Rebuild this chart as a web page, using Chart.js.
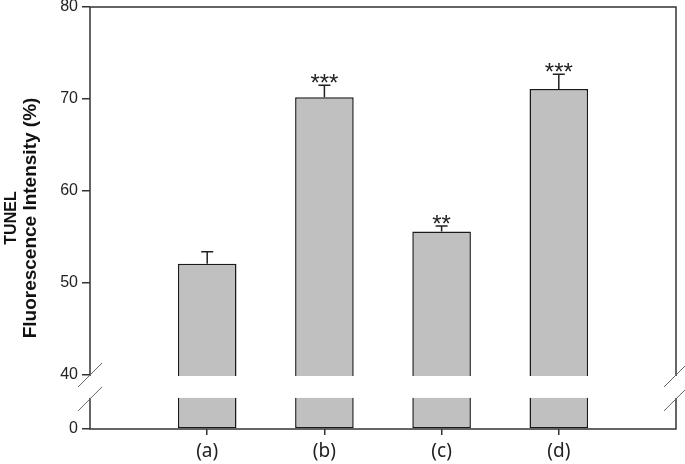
<!DOCTYPE html>
<html>
<head>
<meta charset="utf-8">
<script src="https://cdn.jsdelivr.net/npm/chart.js@4.4.0/dist/chart.umd.min.js"></script>
<style>
  html, body { margin: 0; padding: 0; background: #fff; }
  #wrap { width: 685px; height: 464px; }
</style>
</head>
<body>
<div id="wrap"><canvas id="myChart"></canvas></div>
<script>
// values
var groups = ['(a)', '(b)', '(c)', '(d)'];
var means = [52.1, 70.2, 55.6, 71.1];
var errTops = [53.4, 71.5, 56.2, 72.7];
var stars = ['', '***', '**', '***'];
var yTicks = [40, 50, 60, 70, 80];
var titleLines = ['TUNEL', 'Fluorescence Intensity (%)'];

// broken axis: "0" sits below the break, shown at yBottom
var yBottom = 34.13;
var breakHi = 40;     // upper segment ends here
var breakLo = 37.4;   // lower segment starts here

var lineCol = '#333';

var barPoints = [];
for (var i = 0; i < groups.length; i++) {
  barPoints.push({x: i + 1, y: means[i]});
}

// frame, error bars, stars, the axis break and the y title
var extras = {
  id: 'extras',
  afterDatasetsDraw: function(chart) {
    var ctx = chart.ctx;
    var a = chart.chartArea;
    var xs = chart.scales.x, ys = chart.scales.y;
    ctx.save();

    // frame
    ctx.strokeStyle = lineCol;
    ctx.lineWidth = 1.5;
    ctx.strokeRect(a.left, a.top, a.right - a.left, a.bottom - a.top);

    // error bars (upper only)
    ctx.strokeStyle = '#222';
    ctx.lineWidth = 1.5;
    for (var i = 0; i < means.length; i++) {
      var x = xs.getPixelForValue(i + 1);
      var y0 = ys.getPixelForValue(means[i]);
      var y1 = ys.getPixelForValue(errTops[i]);
      ctx.beginPath();
      ctx.moveTo(x, y0);
      ctx.lineTo(x, y1);
      ctx.moveTo(x - 6, y1);
      ctx.lineTo(x + 6, y1);
      ctx.stroke();

      if (stars[i]) {
        ctx.fillStyle = '#222';
        ctx.font = '24px "Liberation Sans", Arial, sans-serif';
        ctx.textAlign = 'center';
        ctx.textBaseline = 'alphabetic';
        var m = ctx.measureText(stars[i]);
        ctx.fillText(stars[i], x, y1 - 2 - m.actualBoundingBoxDescent);
      }
    }

    // white gap for the break
    var gTop = ys.getPixelForValue(breakHi);
    var gBot = ys.getPixelForValue(breakLo);
    ctx.fillStyle = '#fff';
    ctx.fillRect(a.left - 2, gTop + 1, a.right - a.left + 4, gBot - gTop - 2);

    // slashes on both axes
    ctx.strokeStyle = '#666';
    ctx.lineWidth = 1;
    [a.left, a.right].forEach(function(x) {
      [gTop, gBot].forEach(function(y) {
        ctx.beginPath();
        ctx.moveTo(x - 12, y + 12);
        ctx.lineTo(x + 12, y - 12);
        ctx.stroke();
      });
    });

    // y title, two lines, second one a bit larger
    var cy = 218;
    ctx.fillStyle = '#111';
    ctx.textAlign = 'center';
    ctx.textBaseline = 'middle';
    ctx.translate(12, cy);
    ctx.rotate(-Math.PI / 2);
    ctx.font = 'bold 16px "Liberation Sans", Arial, sans-serif';
    ctx.fillText(titleLines[0], 0, 0);
    ctx.font = 'bold 19px "Liberation Sans", Arial, sans-serif';
    ctx.fillText(titleLines[1], 0, 19);
    ctx.restore();
  }
};

var config = {
  type: 'bar',
  data: {
    datasets: [{
      data: barPoints,
      backgroundColor: '#c0c0c0',
      borderColor: '#1a1a1a',
      borderWidth: 1.5,
      borderSkipped: false,
      base: yBottom,
      barPercentage: 0.5,
      categoryPercentage: 1.0
    }]
  },
  options: {
    responsive: true,
    maintainAspectRatio: false,
    animation: false,
    layout: { padding: { top: 7, right: 9, left: 0, bottom: 0 } },
    plugins: {
      legend: { display: false },
      tooltip: { enabled: false }
    },
    scales: {
      x: {
        type: 'linear',
        min: 0,
        max: 5,
        offset: false,
        border: { display: false },
        grid: { drawOnChartArea: false, offset: false, tickLength: 6, color: lineCol, lineWidth: 1.5 },
        afterBuildTicks: function(scale) {
          scale.ticks = groups.map(function(g, i) { return {value: i + 1}; });
        },
        afterFit: function(scale) { scale.height = 35; },
        ticks: {
          padding: 5,
          color: '#222',
          font: { family: '"Noto Sans", "Open Sans", sans-serif', size: 19 },
          callback: function(v) { return groups[v - 1]; }
        }
      },
      y: {
        min: yBottom,
        max: 80,
        border: { display: false },
        grid: { drawOnChartArea: false, tickLength: 8, color: lineCol, lineWidth: 1.5 },
        afterBuildTicks: function(scale) {
          scale.ticks = [{value: yBottom}].concat(yTicks.map(function(t) { return {value: t}; }));
        },
        afterFit: function(scale) {
          scale.width = 90;
          scale.paddingTop = 0;
          scale.paddingBottom = 0;
        },
        ticks: {
          padding: 4,
          color: '#222',
          font: { family: '"Liberation Sans", Arial, sans-serif', size: 16 },
          callback: function(v) { return Math.abs(v - yBottom) < 0.01 ? '0' : v; }
        }
      }
    }
  },
  plugins: [extras]
};

var myChart = new Chart(document.getElementById('myChart'), config);
</script>
</body>
</html>
